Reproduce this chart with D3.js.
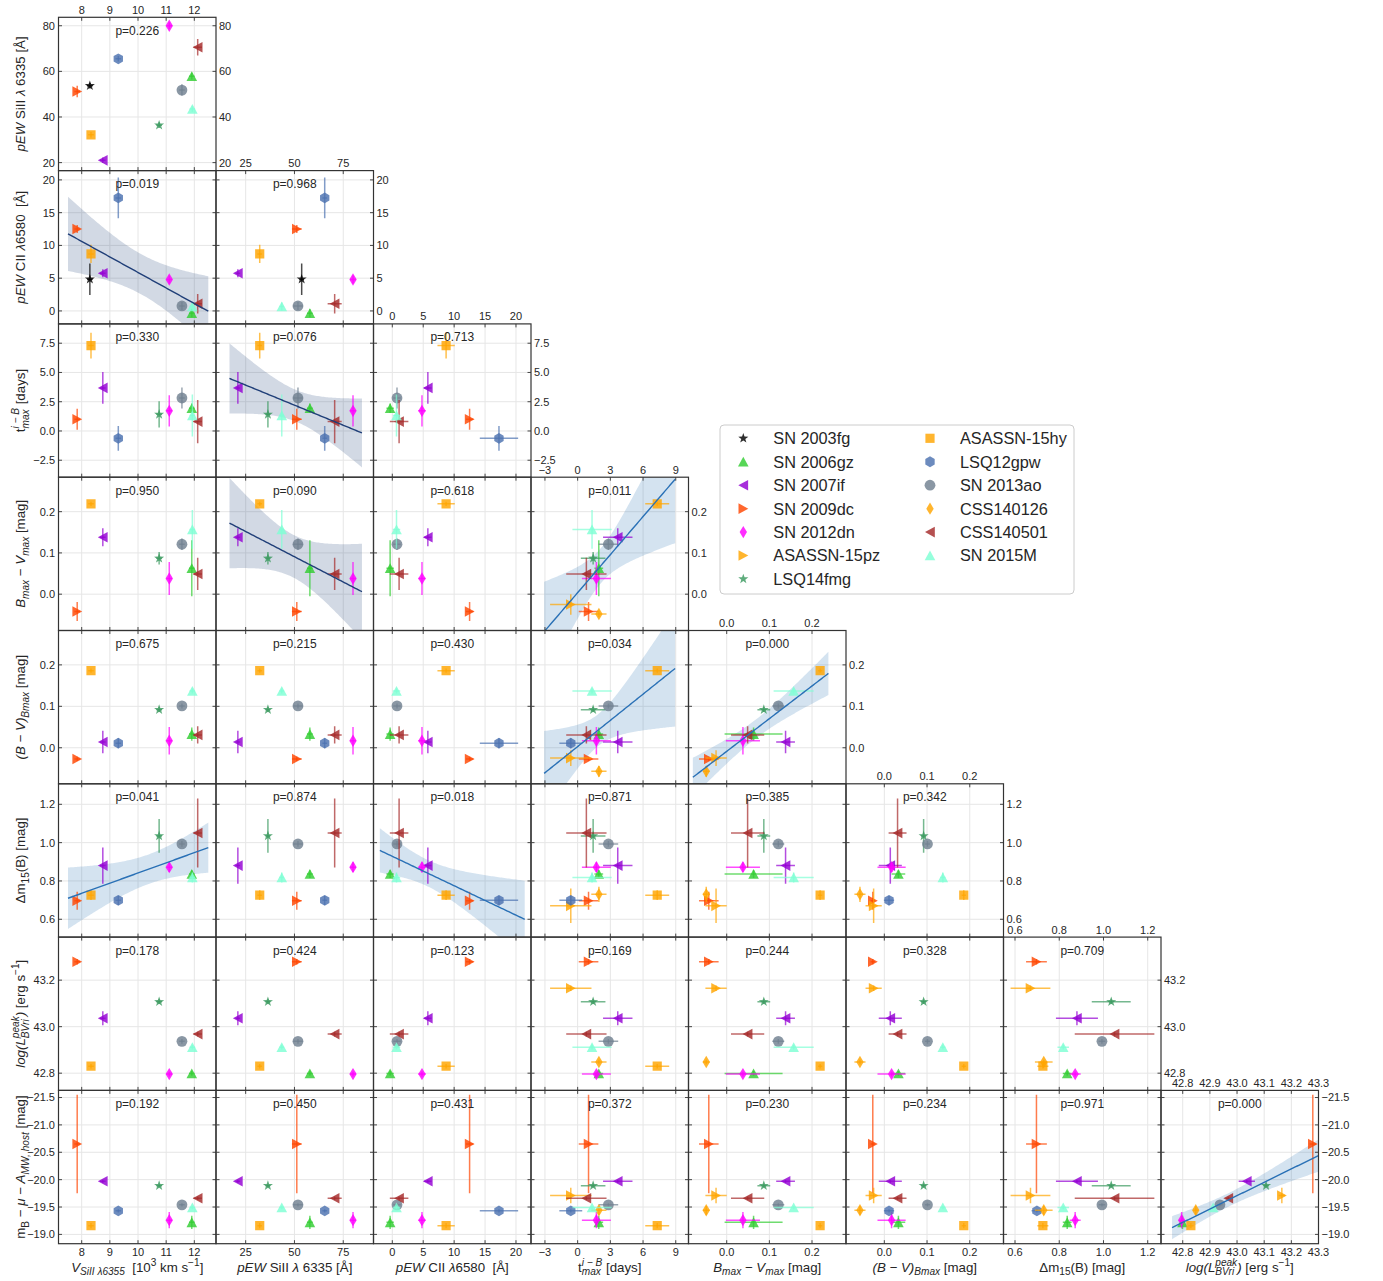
<!DOCTYPE html>
<html><head><meta charset="utf-8">
<script src="https://cdn.jsdelivr.net/npm/d3@7"></script>
<style>
body{margin:0;background:#fff}
svg{display:block}
text{font-family:"Liberation Sans",Arial,sans-serif;fill:#262626;white-space:pre}
</style>
</head><body>
<svg id="c" width="1383" height="1281"></svg>
<script>
// ---------------- DATA ----------------
const names = ["SN 2003fg","SN 2006gz","SN 2007if","SN 2009dc","SN 2012dn","ASASSN-15pz","LSQ14fmg",
               "ASASSN-15hy","LSQ12gpw","SN 2013ao","CSS140126","CSS140501","SN 2015M"];
const vSi      = [8.29, 11.91, 8.75, 7.84, 11.11, null, 10.75, 8.33, 9.30, 11.56, null, 12.12, 11.93];
const vSiErr   = [0.1, 0.1, 0.1, 0.1, 0.1, null, 0.1, 0.1, 0.1, 0.1, null, 0.15, 0.1];
const pewSi    = [53.7, 57.9, 21.0, 51.2, 80.0, null, 36.4, 32.2, 65.5, 51.8, null, 70.6, 43.5];
const pewSiErr = [1.2, 1.5, 1.2, 2.5, 1.5, null, 1.2, 1.2, 1.2, 2.5, null, 3.6, 1.2];
const pewC     = [4.84, -0.35, 5.75, 12.5, 4.8, null, null, 8.7, 17.25, 0.76, null, 1.1, 0.68];
const pewCErr  = [2.4, 0.6, 0.6, 0.6, 0.6, null, null, 1.4, 3.1, 0.6, null, 1.5, 0.6];
const tMax     = [null, 1.94, 3.68, 1.0, 1.72, -0.63, 1.42, 7.3, -0.63, 2.82, 1.95, 0.8, 1.32];
const tMaxErr  = [null, 0.4, 1.35, 0.9, 1.33, 1.9, 1.13, 1.1, 1.05, 0.9, 0.7, 1.85, 1.8];
const bmv      = [null, 0.063, 0.138, -0.042, 0.038, -0.025, 0.087, 0.219, null, 0.121, -0.048, 0.049, 0.157];
const bmvErr   = [null, 0.068, 0.022, 0.023, 0.04, 0.025, 0.015, 0.005, null, 0.014, 0.008, 0.039, 0.047];
const bvB      = [null, 0.033, 0.014, -0.027, 0.017, -0.025, 0.092, 0.186, 0.011, 0.101, -0.057, 0.031, 0.137];
const bvBErr   = [null, 0.016, 0.027, 0.005, 0.033, 0.019, 0.006, 0.005, 0.012, 0.006, 0.013, 0.021, 0.006];
const dm15     = [null, 0.836, 0.88, 0.697, 0.872, 0.67, 1.035, 0.726, 0.699, 0.993, 0.73, 1.05, 0.818];
const dm15Err  = [null, 0.02, 0.095, 0.047, 0.025, 0.09, 0.088, 0.025, 0.024, 0.015, 0.04, 0.18, 0.026];
const logL     = [null, 42.799, 43.036, 43.279, 42.796, 43.165, 43.107, 42.83, null, 42.937, 42.848, 42.968, 42.912];
const logLErr  = [null, 0.01, 0.03, 0.012, 0.01, 0.012, 0.01, 0.01, null, 0.01, 0.01, 0.01, 0.01];
const mB       = [null, -19.22, -19.97, -20.65, -19.26, -19.71, -19.89, -19.16, -19.43, -19.54, -19.44, -19.66, -19.49];
const mBErr    = [null, 0.12, 0.03, 0.9, 0.15, 0.14, 0.03, 0.05, 0.03, 0.03, 0.08, 0.03, 0.03];

// p-values per panel, row by row (row r has columns 0..r)
const pValues = ["0.226",
  "0.019","0.968",
  "0.330","0.076","0.713",
  "0.950","0.090","0.618","0.011",
  "0.675","0.215","0.430","0.034","0.000",
  "0.041","0.874","0.018","0.871","0.385","0.342",
  "0.178","0.424","0.123","0.169","0.244","0.328","0.709",
  "0.192","0.450","0.431","0.372","0.230","0.234","0.971","0.000"];

// tick values
const xTicks = [[8,9,10,11,12],[25,50,75],[0,5,10,15,20],[-3,0,3,6,9],[0,0.1,0.2],[0,0.1,0.2],[0.6,0.8,1.0,1.2],[42.8,42.9,43.0,43.1,43.2,43.3]];
const yTicks = [[20,40,60,80],[0,5,10,15,20],[-2.5,0,2.5,5,7.5],[0,0.1,0.2],[0,0.1,0.2],[0.6,0.8,1.0,1.2],[42.8,43.0,43.2],[-21.5,-21,-20.5,-20,-19.5,-19]];

// ---------------- CONFIG ----------------
const colors = ["#000000","#32cd32","#9400d3","#ff4500","#ff00ff","#ffa500","#3a9a5f",
                "#ffa500","#4c72b0","#708090","#ffa500","#a52a2a","#7fffd4"];
const shapes = ["star","triUp","triLeft","triRight","thinDiamond","triRight","star",
                "square","hexagon","circle","thinDiamond","triLeft","triUp"];
const xDomains = [[7.176,12.77],[9.8,90.5],[-3.04,22.43],[-4.28,10.17],[-0.0896,0.2797],[-0.0897,0.279],[0.548,1.26],[42.72,43.30]];
const yDomains = [[16.5,83.7],[-1.98,21.42],[-3.95,9.15],[-0.088,0.2835],[-0.087,0.283],[0.507,1.307],[42.726,43.385],[-18.83,-21.63]];
const xVals = [vSi,pewSi,pewC,tMax,bmv,bvB,dm15,logL];
const xErrs = [vSiErr,pewSiErr,pewCErr,tMaxErr,bmvErr,bvBErr,dm15Err,logLErr];
const yVals = [pewSi,pewC,tMax,bmv,bvB,dm15,logL,mB];
const yErrs = [pewSiErr,pewCErr,tMaxErr,bmvErr,bvBErr,dm15Err,logLErr,mBErr];
const fInt = d3.format("d"), f1 = d3.format(".1f");
const xFmt = [fInt,fInt,fInt,fInt,f1,f1,f1,f1];
const yFmt = [fInt,fInt,f1,f1,f1,f1,f1,f1];
const darkReg = {"1-0":1,"2-1":1,"3-1":1};

const X0=58.5, Y0=17.3, PW=157.5, PH=153.3;
const FS_T=11, FS_L=13.3;

// label specs
const L = {
  V:[{t:"V",i:1},{t:"SiII λ6355",sub:1,i:1},{t:"  [10"},{t:"3",sup:1},{t:" km s"},{t:"−1",sup:1},{t:"]"}],
  pSi:[{t:"pEW",i:1},{t:" SiII "},{t:"λ",i:1},{t:" 6335 [Å]"}],
  pC:[{t:"pEW",i:1},{t:" CII "},{t:"λ",i:1},{t:"6580  [Å]"}],
  t:[{t:"t"},{ss:1,sup:"i − B",sub:"max",i:1},{t:" [days]"}],
  bmv:[{t:"B",i:1},{t:"max",sub:1,i:1},{t:" − "},{t:"V",i:1},{t:"max",sub:1,i:1},{t:" [mag]"}],
  bv:[{t:"(B − V)",i:1},{t:"Bmax",sub:1,i:1},{t:" [mag]"}],
  dm:[{t:"Δm"},{t:"15",sub:1},{t:"(B) [mag]"}],
  lum:[{t:"log(L",i:1},{ss:1,sup:"peak",sub:"BVri",i:1},{t:")",i:1},{t:" [erg s"},{t:"−1",sup:1},{t:"]"}],
  mb:[{t:"m"},{t:"B",sub:1},{t:" − "},{t:"μ",i:1},{t:" − "},{t:"A",i:1},{t:"MW, host",sub:1,i:1},{t:" [mag]"}]
};
const xLabels = [L.V,L.pSi,L.pC,L.t,L.bmv,L.bv,L.dm,L.lum];
const yLabels = [L.pSi,L.pC,L.t,L.bmv,L.bv,L.dm,L.lum,L.mb];

// ---------------- HELPERS ----------------
function shapePath(type){
  switch(type){
    case "star":{const p=[];for(let k=0;k<10;k++){const r=k%2?2.1:5.3;const a=-Math.PI/2+k*Math.PI/5;p.push([r*Math.cos(a),r*Math.sin(a)]);}
      return "M"+p.map(q=>q[0].toFixed(2)+","+q[1].toFixed(2)).join("L")+"Z";}
    case "triUp": return "M0,-5L5.3,4.8L-5.3,4.8Z";
    case "triLeft": return "M-5,0L4.8,-5.3L4.8,5.3Z";
    case "triRight": return "M5,0L-4.8,-5.3L-4.8,5.3Z";
    case "square": return "M-4.6,-4.6H4.6V4.6H-4.6Z";
    case "thinDiamond": return "M0,-6.2L3.7,0L0,6.2L-3.7,0Z";
    case "hexagon":{const p=[];for(let k=0;k<6;k++){const a=-Math.PI/2+k*Math.PI/3;p.push([5.4*Math.cos(a),5.4*Math.sin(a)]);}
      return "M"+p.map(q=>q[0].toFixed(2)+","+q[1].toFixed(2)).join("L")+"Z";}
    case "circle": return "M5.4,0A5.4,5.4 0 1,1 -5.4,0A5.4,5.4 0 1,1 5.4,0Z";
  }
}
function rich(txt, parts, fs){
  const ss=fs*0.76; let cur=0, pend=0;
  parts.forEach(p=>{
    if(p.ss){
      const up=-0.42*fs, dn=0.3*fs;
      const a=txt.append("tspan").attr("font-size",ss).attr("font-style",p.i?"italic":"normal").attr("dx",pend).attr("dy",up-cur).text(p.sup);
      cur=up;
      const w1=a.node().getComputedTextLength();
      const b=txt.append("tspan").attr("font-size",ss).attr("font-style",p.i?"italic":"normal").attr("dx",-w1).attr("dy",dn-cur).text(p.sub);
      cur=dn;
      const w2=b.node().getComputedTextLength();
      pend=Math.max(0,w1-w2);
    } else {
      const off=p.sup?-0.42*fs:(p.sub?0.3*fs:0);
      txt.append("tspan").attr("font-size",(p.sup||p.sub)?ss:fs).attr("font-style",p.i?"italic":"normal")
        .attr("dx",pend).attr("dy",off-cur).text(p.t);
      cur=off; pend=0;
    }
  });
}
const tCrit=[12.706,4.303,3.182,2.776,2.571,2.447,2.365,2.306,2.262,2.228,2.201,2.179,2.160,2.145,2.131];

// ---------------- DRAW ----------------
const svg=d3.select("#c");
const defs=svg.append("defs");
let pi=0;
for(let r=0;r<8;r++){
  for(let c=0;c<=r;c++){
    const x0=X0+c*PW, x1=x0+PW, y0=Y0+r*PH, y1=y0+PH;
    const xs=d3.scaleLinear().domain(xDomains[c]).range([x0,x1]);
    const ys=d3.scaleLinear().domain(yDomains[r]).range([y1,y0]);
    const id="cp"+r+"_"+c;
    defs.append("clipPath").attr("id",id).append("rect").attr("x",x0).attr("y",y0).attr("width",PW).attr("height",PH);
    const g=svg.append("g");
    const pg=g.append("g").attr("clip-path","url(#"+id+")");
    // grid
    xTicks[c].forEach(t=>pg.append("line").attr("x1",xs(t)).attr("x2",xs(t)).attr("y1",y0).attr("y2",y1).attr("stroke","#e6e6e6").attr("stroke-width",1));
    yTicks[r].forEach(t=>pg.append("line").attr("y1",ys(t)).attr("y2",ys(t)).attr("x1",x0).attr("x2",x1).attr("stroke","#e6e6e6").attr("stroke-width",1));
    const X=xVals[c], XE=xErrs[c], Y=yVals[r], YE=yErrs[r];
    const idx=d3.range(names.length).filter(i=>X[i]!=null && Y[i]!=null);
    const p=pValues[pi++];
    // regression
    let regLine=null;
    if(+p<0.1){
      const n=idx.length;
      const mx=d3.mean(idx,i=>X[i]), my=d3.mean(idx,i=>Y[i]);
      const sxx=d3.sum(idx,i=>(X[i]-mx)**2), sxy=d3.sum(idx,i=>(X[i]-mx)*(Y[i]-my));
      const b=sxy/sxx, a=my-b*mx;
      const s=Math.sqrt(d3.sum(idx,i=>(Y[i]-a-b*X[i])**2)/(n-2));
      const tc=tCrit[n-3];
      let lo=d3.min(idx,i=>X[i]-(XE[i]||0)), hi=d3.max(idx,i=>X[i]+(XE[i]||0));
      const m=(hi-lo)*0.05; lo-=m; hi+=m;
      const grid=d3.range(0,101).map(k=>lo+(hi-lo)*k/100);
      const band=grid.map(x=>{const yh=a+b*x; const h=tc*s*Math.sqrt(1/n+(x-mx)**2/sxx); return {x,yl:yh-h,yh:yh+h,y:yh};});
      const col=darkReg[r+"-"+c]?"#203f78":"#2a71b6";
      pg.append("path").datum(band).attr("d",d3.area().x(d=>xs(d.x)).y0(d=>ys(d.yl)).y1(d=>ys(d.yh)))
        .attr("fill",col).attr("fill-opacity",0.2).attr("stroke","none");
      regLine={band,col};
    }
    // points
    idx.forEach(i=>{
      const cx=xs(X[i]), cy=ys(Y[i]), col=colors[i];
      const eg=pg.append("g").attr("stroke",col).attr("stroke-width",1.5).attr("stroke-opacity",0.7);
      if(XE[i]) eg.append("line").attr("x1",xs(X[i]-XE[i])).attr("x2",xs(X[i]+XE[i])).attr("y1",cy).attr("y2",cy);
      if(YE[i]) eg.append("line").attr("y1",ys(Y[i]-YE[i])).attr("y2",ys(Y[i]+YE[i])).attr("x1",cx).attr("x2",cx);
      pg.append("path").attr("d",shapePath(shapes[i])).attr("transform","translate("+cx+","+cy+")")
        .attr("fill",col).attr("fill-opacity",0.82).attr("stroke","none");
    });
    if(regLine){
      pg.append("path").datum(regLine.band).attr("d",d3.line().x(d=>xs(d.x)).y(d=>ys(d.y)))
        .attr("fill","none").attr("stroke",regLine.col).attr("stroke-width",1.4);
    }
    // ticks (inward, all sides)
    const tg=g.append("g").attr("stroke","#333").attr("stroke-width",0.9);
    xTicks[c].forEach(t=>{const x=xs(t);
      tg.append("line").attr("x1",x).attr("x2",x).attr("y1",y1).attr("y2",y1-3.5);
      tg.append("line").attr("x1",x).attr("x2",x).attr("y1",y0).attr("y2",y0+3.5);});
    yTicks[r].forEach(t=>{const y=ys(t);
      tg.append("line").attr("y1",y).attr("y2",y).attr("x1",x0).attr("x2",x0+3.5);
      tg.append("line").attr("y1",y).attr("y2",y).attr("x1",x1).attr("x2",x1-3.5);});
    // border
    g.append("rect").attr("x",x0).attr("y",y0).attr("width",PW).attr("height",PH)
      .attr("fill","none").attr("stroke","#333").attr("stroke-width",1.2);
    // p text
    g.append("text").attr("x",(x0+x1)/2).attr("y",y0+17.5).attr("text-anchor","middle").attr("font-size",12).text("p="+p);
    // tick labels
    if(c===0){
      yTicks[r].forEach(t=>g.append("text").attr("x",x0-3.5).attr("y",ys(t)).attr("dy","0.36em").attr("text-anchor","end").attr("font-size",FS_T).text(yFmt[r](t)));
      const lt=g.append("text").attr("transform","translate(24.5,"+((y0+y1)/2)+") rotate(-90)").attr("text-anchor","middle").attr("font-size",FS_L);
      rich(lt,yLabels[r],FS_L);
    }
    if(r===7){
      xTicks[c].forEach(t=>g.append("text").attr("x",xs(t)).attr("y",y1+12.5).attr("text-anchor","middle").attr("font-size",FS_T).text(xFmt[c](t)));
      const lb=g.append("text").attr("x",(x0+x1)/2).attr("y",1271.5).attr("text-anchor","middle").attr("font-size",FS_L);
      rich(lb,xLabels[c],FS_L);
    }
    if(c===r){
      xTicks[c].forEach(t=>g.append("text").attr("x",xs(t)).attr("y",y0-3.5).attr("text-anchor","middle").attr("font-size",FS_T).text(xFmt[c](t)));
      yTicks[r].forEach(t=>g.append("text").attr("x",x1+3).attr("y",ys(t)).attr("dy","0.36em").attr("text-anchor","start").attr("font-size",FS_T).text(yFmt[r](t)));
    }
  }
}

// ---------------- LEGEND ----------------
const lg=svg.append("g");
lg.append("rect").attr("x",720).attr("y",425).attr("width",354).attr("height",169).attr("rx",4)
  .attr("fill","#fff").attr("stroke","#cccccc").attr("stroke-width",1);
names.forEach((nm,i)=>{
  const colI=i<7?0:1, row=i<7?i:i-7;
  const mx=colI?930:743.3, tx=colI?960:773.3, cy=438.3+row*23.45;
  lg.append("path").attr("d",shapePath(shapes[i])).attr("transform","translate("+mx+","+cy+")")
    .attr("fill",colors[i]).attr("fill-opacity",0.82);
  lg.append("text").attr("x",tx).attr("y",cy).attr("dy","0.36em").attr("font-size",16.3).text(nm);
});
</script>
</body></html>
